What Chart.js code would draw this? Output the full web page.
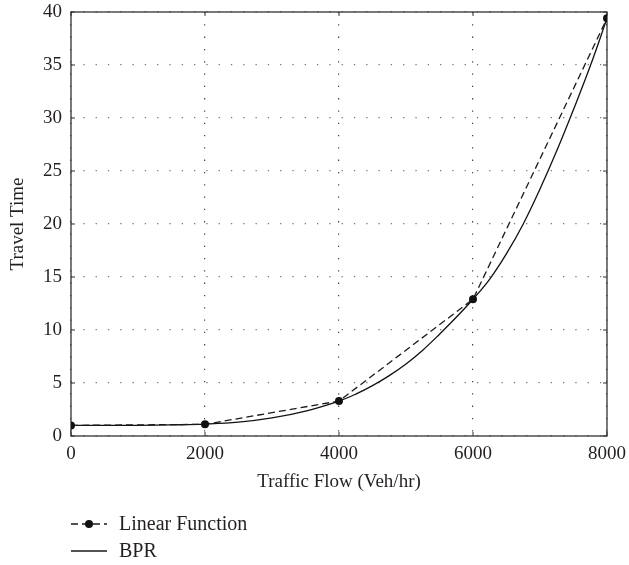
<!DOCTYPE html>
<html>
<head>
<meta charset="utf-8">
<script src="https://cdn.jsdelivr.net/npm/chart.js@4/dist/chart.umd.min.js"></script>
<style>
  html, body { margin: 0; padding: 0; background: #fff; }
  #wrap { position: relative; width: 629px; height: 565px; }
  #legend { position: absolute; left: 71px; top: 510px; font-family: "Liberation Serif", serif; font-size: 20px; color: #231f20; }
  .item { display: flex; align-items: center; height: 27px; }
  .item svg { width: 36px; height: 12px; margin-right: 12px; }
</style>
</head>
<body>
<div id="wrap">
  <canvas id="c" width="629" height="565"></canvas>
  <div id="legend"></div>
</div>
<script>
// ---- data ----
const linearFlow = [0, 2000, 4000, 6000, 8000];
const linearTime = [1.0, 1.1, 3.3, 12.9, 39.4];
const bprFlow = [0, 500, 1000, 1500, 2000, 2500, 3000, 3500, 4000, 4250, 4500, 4750, 5000, 5250, 5500, 5750, 6000, 6250, 6500, 6750, 7000, 7250, 7500, 7750, 8000];
const bprTime = [1.0, 1.0, 1.01, 1.05, 1.12, 1.3, 1.7, 2.35, 3.3, 3.95, 4.75, 5.7, 6.8, 8.1, 9.6, 11.2, 12.9, 14.8, 17.2, 20.0, 23.3, 26.9, 30.8, 34.9, 39.4];
const seriesNames = ["Linear Function", "BPR"];
const xTitle = "Traffic Flow (Veh/hr)";
const yTitle = "Travel Time";

const FONT = "'Liberation Serif', 'Times New Roman', serif";
const TXT = "#231f20";

const framePlugin = {
  id: 'frame',
  beforeDatasetsDraw(chart) {
    const {ctx, chartArea: a, scales} = chart;
    ctx.save();
    ctx.strokeStyle = '#333';
    ctx.lineWidth = 1.3;
    ctx.setLineDash([]);
    ctx.strokeRect(a.left, a.top, a.right - a.left, a.bottom - a.top);
    ctx.lineWidth = 1;
    const tl = 4;
    scales.x.ticks.forEach(t => {
      const px = scales.x.getPixelForValue(t.value);
      ctx.beginPath();
      ctx.moveTo(px, a.bottom); ctx.lineTo(px, a.bottom - tl);
      ctx.moveTo(px, a.top); ctx.lineTo(px, a.top + tl);
      ctx.stroke();
    });
    scales.y.ticks.forEach(t => {
      const py = scales.y.getPixelForValue(t.value);
      ctx.beginPath();
      ctx.moveTo(a.left, py); ctx.lineTo(a.left + tl, py);
      ctx.moveTo(a.right, py); ctx.lineTo(a.right - tl, py);
      ctx.stroke();
    });
    ctx.restore();
  }
};

const chart = new Chart(document.getElementById('c'), {
  type: 'line',
  data: {
    datasets: [
      {
        label: seriesNames[0],
        data: linearFlow.map((x, i) => ({x, y: linearTime[i]})),
        borderColor: '#1a1a1a',
        borderWidth: 1.3,
        borderDash: [7, 4],
        pointRadius: 4,
        pointBackgroundColor: '#111',
        pointBorderColor: '#111',
        pointBorderWidth: 0,
        tension: 0,
        fill: false
      },
      {
        label: seriesNames[1],
        data: bprFlow.map((x, i) => ({x, y: bprTime[i]})),
        borderColor: '#111',
        borderWidth: 1.3,
        pointRadius: 0,
        tension: 0.4,
        fill: false
      }
    ]
  },
  options: {
    responsive: false,
    animation: false,
    events: [],
    layout: { padding: { left: 0, right: 22, top: 12, bottom: 71 } },
    plugins: { legend: { display: false }, tooltip: { enabled: false } },
    scales: {
      x: {
        type: 'linear',
        min: 0, max: 8000,
        afterFit: s => { s.height = 58; s.paddingLeft = 0; s.paddingRight = 0; },
        ticks: { stepSize: 2000, padding: 7, color: TXT, font: { family: FONT, size: 19 }, maxRotation: 0, callback: v => String(v) },
        grid: { drawTicks: false, color: '#444', lineWidth: 1.2 },
        border: { display: false, dash: [1.3, 11] },
        title: { display: true, text: xTitle, color: TXT, font: { family: FONT, size: 19 }, padding: { top: 0, bottom: 1 } }
      },
      y: {
        type: 'linear',
        min: 0, max: 40,
        afterFit: s => { s.width = 71; s.paddingTop = 0; s.paddingBottom = 0; },
        ticks: { stepSize: 5, padding: 9, color: TXT, font: { family: FONT, size: 19 }, callback: v => String(v) },
        grid: { drawTicks: false, color: '#777', lineWidth: 1.2 },
        border: { display: false, dash: [1.3, 11] },
        title: { display: true, text: yTitle, color: TXT, font: { family: FONT, size: 19 }, padding: { top: 7, bottom: 0 } }
      }
    }
  },
  plugins: [framePlugin]
});

// HTML legend built from the dataset labels
const leg = document.getElementById('legend');
chart.data.datasets.forEach((ds, i) => {
  const row = document.createElement('div');
  row.className = 'item';
  const sym = i === 0
    ? '<svg viewBox="0 0 36 12"><line x1="0" y1="6" x2="36" y2="6" stroke="#1a1a1a" stroke-width="1.3" stroke-dasharray="7 4"/><circle cx="18" cy="6" r="4" fill="#111"/></svg>'
    : '<svg viewBox="0 0 36 12"><line x1="0" y1="6" x2="36" y2="6" stroke="#1a1a1a" stroke-width="1.3"/></svg>';
  row.innerHTML = sym + '<span>' + ds.label + '</span>';
  leg.appendChild(row);
});
</script>
</body>
</html>
